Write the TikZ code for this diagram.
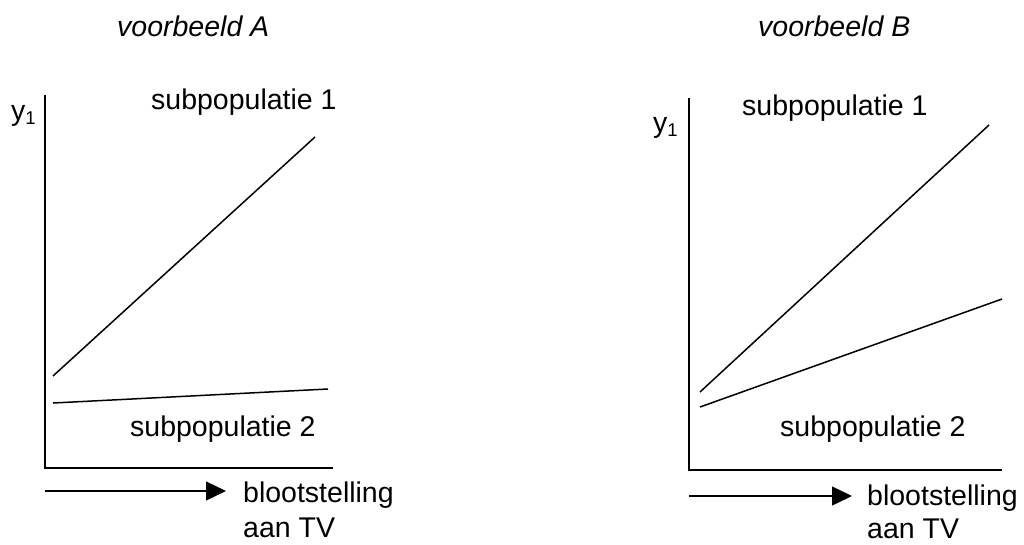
\documentclass[tikz,border=0pt]{standalone}
\usepackage{fontspec}
\setmainfont{Liberation Sans}
\usetikzlibrary{arrows.meta}
\tikzset{
  lbl/.style={anchor=base west, inner sep=0pt, font=\fontsize{28.5}{32}\selectfont},
  ttl/.style={anchor=base west, inner sep=0pt, font=\fontsize{28.5}{32}\selectfont\itshape},
  axisline/.style={line width=2pt, line join=miter},
  plotline/.style={line width=1.5pt},
  arrowline/.style={line width=1.3pt, -{Triangle[length=20pt,width=19pt]}}
}
\newcommand{\yone}{y\raisebox{-0.3ex}{\fontsize{18.5}{19}\selectfont 1}}
\begin{document}
\begin{tikzpicture}[x=1pt,y=-1pt]
\useasboundingbox (0,0) rectangle (1024,544);
% ---------- voorbeeld A ----------
\node[ttl] (tA) at (117,36) {voorbeeld A};
\coordinate (Atop) at (45,95);
\coordinate (Aorig) at (45,468);
\coordinate (Aend) at (333,468);
\draw[axisline] (Atop) -- (Aorig) -- (Aend);
\node[lbl] (yA) at (11,120) {\yone};
\coordinate (A1s) at (53,376);
\coordinate (A1e) at (315,137);
\coordinate (A2s) at (53,403);
\coordinate (A2e) at (328,389);
\draw[plotline] (A1s) -- (A1e);
\draw[plotline] (A2s) -- (A2e);
\node[lbl] (sA1) at (151,109) {subpopulatie 1};
\node[lbl] (sA2) at (130,436) {subpopulatie 2};
\coordinate (Aas) at (45,491);
\coordinate (Aat) at (226,491);
\draw[arrowline] (Aas) -- (Aat);
\node[lbl] (bA) at (243,502) {blootstelling};
\node[lbl] (tvA) at (243,537) {aan TV};
% ---------- voorbeeld B ----------
\node[ttl] (tB) at (758,36) {voorbeeld B};
\coordinate (Btop) at (689,98);
\coordinate (Borig) at (689,470);
\coordinate (Bend) at (1002,470);
\draw[axisline] (Btop) -- (Borig) -- (Bend);
\node[lbl] (yB) at (653,132) {\yone};
\coordinate (B1s) at (700,392);
\coordinate (B1e) at (989,125);
\coordinate (B2s) at (700,407);
\coordinate (B2e) at (1002,299);
\draw[plotline] (B1s) -- (B1e);
\draw[plotline] (B2s) -- (B2e);
\node[lbl] (sB1) at (742,115) {subpopulatie 1};
\node[lbl] (sB2) at (780,436) {subpopulatie 2};
\coordinate (Bas) at (689,496);
\coordinate (Bat) at (852,496);
\draw[arrowline] (Bas) -- (Bat);
\node[lbl] (bB) at (867,505) {blootstelling};
\node[lbl] (tvB) at (867,538) {aan TV};
\end{tikzpicture}
\end{document}
